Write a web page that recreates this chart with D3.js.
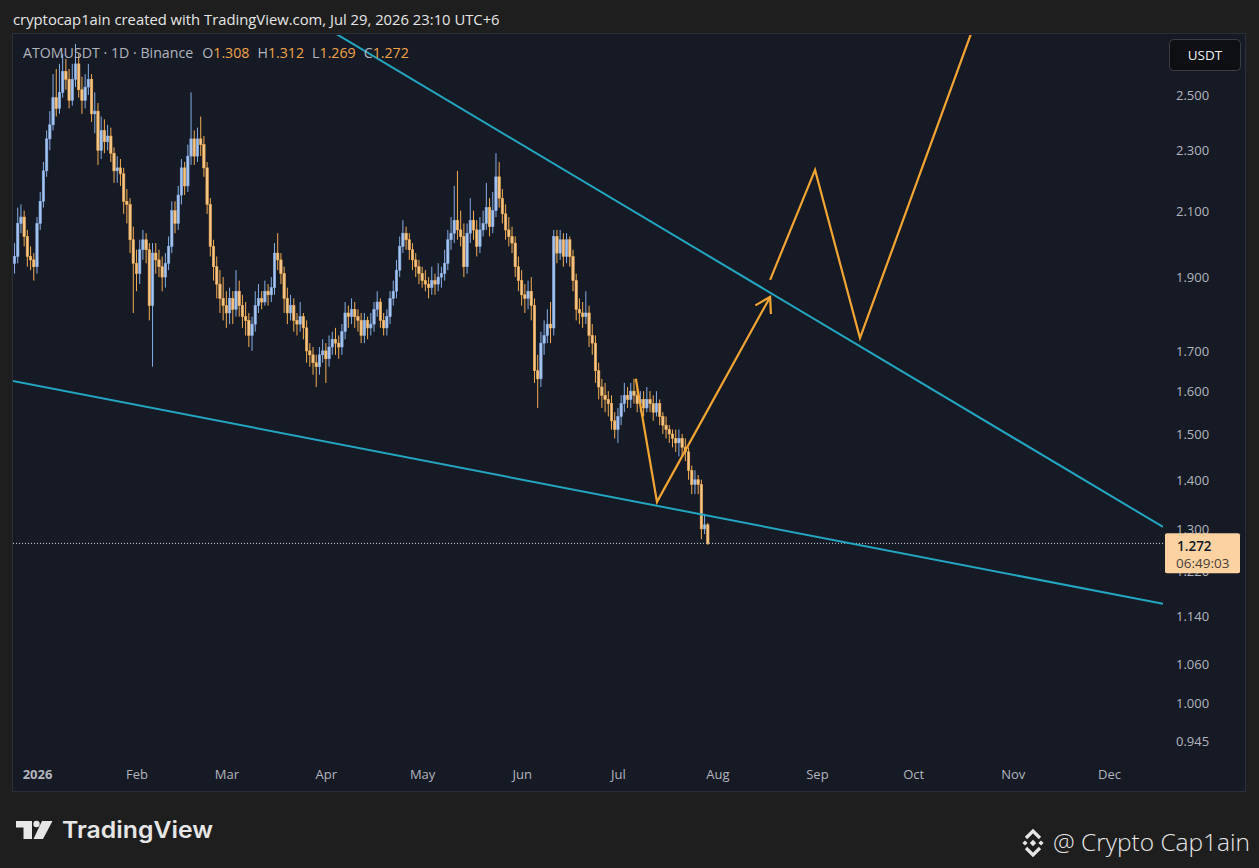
<!DOCTYPE html>
<html><head><meta charset="utf-8">
<script src="https://cdn.jsdelivr.net/npm/d3@7"></script>
<style>
html,body{margin:0;padding:0;background:#1e1e1e;}
svg{display:block;}
</style></head><body>
<svg id="c" width="1259" height="868"></svg>
<script>
// ---------------- data ----------------
const headerText = "cryptocap1ain created with TradingView.com, Jul 29, 2026 23:10 UTC+6";
const symbolTitle = "ATOMUSDT · 1D · Binance";
const ohlcKeys = ["O","H","L","C"];
const ohlcValues = ["1.308","1.312","1.269","1.272"];
const startDate = "2025-12-25";
const firstOpen = 1.94;
const closes = [
1.96,2.06,2.08,2.02,1.96,1.95,1.93,
2.06,2.13,2.23,2.34,2.39,2.49,2.45,2.51,2.59,2.56,
2.48,2.56,2.62,2.52,2.48,2.53,2.56,2.43,2.44,2.30,
2.37,2.33,2.35,2.29,2.23,2.24,2.22,2.13,2.12,2.01,
1.94,1.91,1.98,2.01,1.98,1.82,1.97,1.95,1.93,1.90,
1.94,1.99,2.10,2.06,2.15,2.24,2.18,2.28,2.34,2.28,
2.34,2.32,2.24,2.12,1.99,1.93,1.88,1.84,1.82,1.80,
1.84,1.81,1.86,1.82,1.79,1.78,1.74,1.77,1.82,1.84,
1.83,1.86,1.85,1.87,1.97,1.95,1.91,1.84,1.80,1.82,
1.78,1.77,1.79,1.76,1.70,1.69,1.67,1.66,1.69,1.70,
1.68,1.71,1.73,1.72,1.71,1.75,1.80,1.79,1.81,1.79,
1.78,1.74,1.78,1.76,1.77,1.81,1.83,1.78,1.76,1.79,
1.84,1.86,1.92,1.99,2.03,2.01,1.98,1.95,1.93,1.91,
1.89,1.88,1.87,1.89,1.88,1.90,1.91,1.94,2.01,2.03,
2.07,2.04,2.02,1.93,2.03,2.07,2.04,1.99,2.04,2.06,
2.11,2.05,2.10,2.21,2.14,2.09,2.04,2.02,2.00,1.93,
1.89,1.85,1.84,1.86,1.82,1.65,1.63,1.72,1.74,1.77,
1.76,2.02,1.97,2.01,1.96,2.01,1.96,1.89,1.81,1.80,
1.79,1.80,1.74,1.72,1.65,1.61,1.59,1.58,1.57,1.53,
1.51,1.54,1.57,1.59,1.58,1.60,1.59,1.57,1.58,1.56,
1.58,1.57,1.55,1.57,1.54,1.52,1.51,1.50,1.49,1.48,
1.49,1.47,1.46,1.42,1.39,1.40,1.39,1.30,1.308,1.272
];
const highs = [
2.00,2.11,2.12,2.10,2.04,1.99,1.97,
2.08,2.16,2.26,2.37,2.44,2.58,2.60,2.62,2.66,2.64,
2.60,2.62,2.70,2.66,2.57,2.58,2.62,2.58,2.51,2.47,
2.42,2.41,2.39,2.38,2.31,2.28,2.27,2.24,2.17,2.14,
2.05,1.98,2.01,2.04,2.03,2.00,2.00,2.00,1.98,1.96,
1.97,2.02,2.13,2.13,2.18,2.27,2.26,2.32,2.51,2.37,
2.38,2.42,2.35,2.26,2.14,2.01,1.96,1.92,1.90,1.86,
1.87,1.86,1.92,1.89,1.85,1.83,1.80,1.79,1.86,1.88,
1.86,1.89,1.88,1.90,2.00,2.03,1.97,1.93,1.87,1.85,
1.84,1.80,1.83,1.80,1.78,1.72,1.71,1.69,1.71,1.73,
1.72,1.74,1.75,1.76,1.74,1.77,1.83,1.82,1.84,1.83,
1.81,1.80,1.80,1.79,1.80,1.83,1.86,1.84,1.80,1.81,
1.86,1.89,1.95,2.02,2.07,2.05,2.03,2.00,1.97,1.95,
1.93,1.92,1.90,1.93,1.91,1.94,1.93,1.98,2.04,2.08,
2.18,2.23,2.10,2.06,2.06,2.14,2.10,2.07,2.08,2.10,
2.19,2.14,2.16,2.29,2.26,2.17,2.12,2.08,2.05,2.02,
1.96,1.92,1.88,1.89,1.90,1.84,1.69,1.75,1.78,1.81,
1.83,2.04,2.04,2.04,2.03,2.03,2.02,1.98,1.91,1.84,
1.83,1.86,1.82,1.77,1.74,1.67,1.63,1.62,1.60,1.59,
1.55,1.56,1.59,1.62,1.61,1.62,1.63,1.61,1.60,1.60,
1.61,1.60,1.59,1.60,1.58,1.55,1.54,1.52,1.51,1.51,
1.51,1.50,1.49,1.47,1.43,1.42,1.41,1.40,1.33,1.312
];
const lows = [
1.91,1.94,2.03,1.99,1.93,1.92,1.89,
1.91,2.04,2.11,2.21,2.30,2.37,2.42,2.43,2.49,2.52,
2.45,2.46,2.53,2.49,2.43,2.45,2.50,2.40,2.36,2.25,
2.27,2.29,2.30,2.26,2.19,2.19,2.18,2.09,2.06,1.97,
1.80,1.86,1.88,1.95,1.94,1.78,1.66,1.91,1.90,1.86,
1.87,1.92,1.97,2.03,2.04,2.12,2.15,2.16,2.25,2.25,
2.26,2.28,2.21,2.09,1.96,1.89,1.84,1.80,1.78,1.76,
1.77,1.77,1.79,1.79,1.76,1.74,1.71,1.70,1.75,1.80,
1.81,1.82,1.82,1.83,1.85,1.92,1.88,1.80,1.77,1.78,
1.75,1.74,1.75,1.73,1.67,1.66,1.64,1.61,1.64,1.67,
1.62,1.66,1.69,1.69,1.68,1.69,1.73,1.76,1.77,1.76,
1.75,1.72,1.72,1.73,1.74,1.75,1.79,1.76,1.74,1.74,
1.77,1.82,1.84,1.90,1.97,1.98,1.95,1.92,1.90,1.88,
1.87,1.86,1.84,1.85,1.85,1.86,1.87,1.89,1.92,1.98,
2.00,2.01,1.99,1.90,1.91,2.00,2.01,1.96,1.97,2.02,
2.04,2.02,2.03,2.08,2.11,2.06,2.01,1.99,1.97,1.90,
1.86,1.82,1.80,1.81,1.78,1.62,1.56,1.61,1.69,1.72,
1.72,1.74,1.94,1.95,1.93,1.94,1.93,1.86,1.78,1.77,
1.76,1.77,1.71,1.69,1.62,1.58,1.56,1.55,1.54,1.51,
1.49,1.48,1.52,1.55,1.56,1.56,1.57,1.55,1.55,1.54,
1.55,1.55,1.53,1.54,1.52,1.50,1.49,1.48,1.47,1.46,
1.45,1.45,1.44,1.40,1.37,1.37,1.37,1.28,1.29,1.269
];
const priceTicks = [2.5,2.3,2.1,1.9,1.7,1.6,1.5,1.4,1.3,1.22,1.14,1.06,1.0,0.945];
const monthDates = ["2026-01-01","2026-02-01","2026-03-01","2026-04-01","2026-05-01","2026-06-01",
                    "2026-07-01","2026-08-01","2026-09-01","2026-10-01","2026-11-01","2026-12-01"];
const monthLabels = ["2026","Feb","Mar","Apr","May","Jun","Jul","Aug","Sep","Oct","Nov","Dec"];
const upperTrend = [["2026-05-31",2.327],["2026-12-17",1.307]];
const lowerTrend = [["2025-12-25",1.624],["2026-12-17",1.162]];
const projectionA = [["2026-07-06T14:00",1.630],["2026-07-13T04:00",1.354],["2026-08-17T10:00",1.844]];
const projectionB = [["2026-08-17T10:00",1.892],["2026-08-31T10:00",2.233],["2026-09-14T10:00",1.733],["2026-10-20T05:00",2.786]];
const lastPrice = 1.272;
const lastPriceLabel = "1.272";
const countdownLabel = "06:49:03";
const currencyLabel = "USDT";

// ---------------- layout ----------------
const W = 1259, H = 868;
const plot = {l:13, r:1163, t:34, b:760};
const svg = d3.select("#c");
const font = "'Open Sans', 'Noto Sans', sans-serif";
const axisColor = "#b2b5be";
const upColor = "#85ade6", downColor = "#f2ac52";
const upFill = "#a6c4ee", downFill = "#f4c68a";

const x = d3.scaleUtc().domain([new Date("2026-01-01T00:00Z"), new Date("2026-12-01T00:00Z")]).range([37,1109]);
const y = d3.scaleLog().domain([1.0, 2.5]).range([703, 95]);
const parse = s => new Date(s.length > 10 ? s + "Z" : s + "T00:00Z");

svg.append("rect").attr("width",W).attr("height",H).attr("fill","#1e1e1e");
// header
svg.append("text").attr("x",13).attr("y",25).attr("fill","#e6e6e6")
  .attr("font-family",font).attr("font-size",14.8).text(headerText);
// chart panel
svg.append("rect").attr("x",12.5).attr("y",33.5).attr("width",1233).attr("height",758)
  .attr("fill","#161a25").attr("stroke","#2b2f3a").attr("stroke-width",1);

const defs = svg.append("defs");
defs.append("clipPath").attr("id","pc").append("rect")
  .attr("x",plot.l).attr("y",plot.t+1).attr("width",plot.r-plot.l).attr("height",plot.b-plot.t);

const g = svg.append("g").attr("clip-path","url(#pc)");

// candles
const start = parse(startDate);
const candles = closes.map((c,i) => ({
  date: d3.utcDay.offset(start, i),
  open: i === 0 ? firstOpen : closes[i-1],
  close: c, high: highs[i], low: lows[i]
}));
const bw = 2.4;
const cg = g.append("g");
cg.selectAll("line.w").data(candles).join("line").attr("class","w")
  .attr("x1",d=>x(d.date)).attr("x2",d=>x(d.date))
  .attr("y1",d=>y(d.high)).attr("y2",d=>y(d.low))
  .attr("stroke",d=>d.close>=d.open?upColor:downColor).attr("stroke-width",1);
cg.selectAll("rect.b").data(candles).join("rect").attr("class","b")
  .attr("x",d=>x(d.date)-bw/2).attr("width",bw)
  .attr("y",d=>y(Math.max(d.open,d.close)))
  .attr("height",d=>Math.max(1, Math.abs(y(d.open)-y(d.close))))
  .attr("fill",d=>d.close>=d.open?upFill:downFill)
  .attr("stroke",d=>d.close>=d.open?upColor:downColor).attr("stroke-width",0.6);

// last price dotted line
g.append("line").attr("x1",plot.l).attr("x2",plot.r)
  .attr("y1",y(lastPrice)).attr("y2",y(lastPrice))
  .attr("stroke","#d8dbe2").attr("stroke-width",1).attr("stroke-dasharray","1,2");

// trend lines (extended across the plot)
function extendLine(pts){
  const p = pts.map(d=>[x(parse(d[0])), y(d[1])]);
  const s = (p[1][1]-p[0][1])/(p[1][0]-p[0][0]);
  return [[plot.l-50, p[0][1]+s*(plot.l-50-p[0][0])],[plot.r, p[0][1]+s*(plot.r-p[0][0])]];
}
[upperTrend, lowerTrend].forEach(t=>{
  const e = extendLine(t);
  g.append("line").attr("x1",e[0][0]).attr("y1",e[0][1]).attr("x2",e[1][0]).attr("y2",e[1][1])
   .attr("stroke","#23a6c2").attr("stroke-width",2);
});

// projections
const lineGen = d3.line().x(d=>x(parse(d[0]))).y(d=>y(d[1]));
const projColor = "#f3a533";
g.append("path").attr("d",lineGen(projectionA)).attr("fill","none")
  .attr("stroke",projColor).attr("stroke-width",2.2).attr("stroke-linejoin","miter");
g.append("path").attr("d",lineGen(projectionB)).attr("fill","none")
  .attr("stroke",projColor).attr("stroke-width",2.2).attr("stroke-linejoin","miter");
// arrowhead at end of projection A
{
  const n = projectionA.length;
  const tip = [x(parse(projectionA[n-1][0])), y(projectionA[n-1][1])];
  const prev = [x(parse(projectionA[n-2][0])), y(projectionA[n-2][1])];
  const ang = Math.atan2(prev[1]-tip[1], prev[0]-tip[0]);
  const L = 17, spread = 0.55;
  const a1 = [tip[0]+L*Math.cos(ang+spread), tip[1]+L*Math.sin(ang+spread)];
  const a2 = [tip[0]+L*Math.cos(ang-spread), tip[1]+L*Math.sin(ang-spread)];
  g.append("path").attr("d",`M${a1[0]},${a1[1]}L${tip[0]},${tip[1]}L${a2[0]},${a2[1]}`)
   .attr("fill","none").attr("stroke",projColor).attr("stroke-width",2.2).attr("stroke-linejoin","miter");
}

// legend
const leg = svg.append("text").attr("x",23).attr("y",58).attr("font-family",font).attr("font-size",14.2);
leg.append("tspan").attr("fill","#b2b5be").text(symbolTitle);
ohlcKeys.forEach((k,i)=>{
  leg.append("tspan").attr("fill","#b2b5be").attr("dx", i===0?9:8).text(k);
  leg.append("tspan").attr("fill","#f0a345").text(ohlcValues[i]);
});

// price axis
const yAxis = d3.axisRight(y).tickValues(priceTicks).tickFormat(d3.format(".3f")).tickSize(0).tickPadding(0);
const ya = svg.append("g").attr("transform","translate(1176,0)").call(yAxis);
ya.select(".domain").remove();
ya.selectAll("text").attr("fill",axisColor).attr("font-family",font).attr("font-size",13).attr("dy","0.35em");

// time axis
const xAxis = d3.axisBottom(x).tickValues(monthDates.map(parse)).tickFormat((d,i)=>monthLabels[i]).tickSize(0).tickPadding(0);
const xa = svg.append("g").attr("transform","translate(0,770)").call(xAxis);
xa.select(".domain").remove();
xa.selectAll("text").attr("fill",axisColor).attr("font-family",font).attr("font-size",13)
  .attr("font-weight",(d,i)=>i===0?700:400).attr("dy","0.71em");

// currency box
svg.append("rect").attr("x",1169.5).attr("y",39.5).attr("width",71).attr("height",31).attr("rx",4)
  .attr("fill","#0e0f12").attr("stroke","#3a3d45");
svg.append("text").attr("x",1205).attr("y",60).attr("text-anchor","middle").attr("fill","#f0f0f0")
  .attr("font-family",font).attr("font-size",13.5).text(currencyLabel);

// last price label
const ly = y(lastPrice);
svg.append("rect").attr("x",1165).attr("y",ly-10).attr("width",75).attr("height",40).attr("rx",2)
  .attr("fill","#fcd2a3");
svg.append("text").attr("x",1177).attr("y",ly+8).attr("fill","#131722").attr("font-family",font)
  .attr("font-size",13.5).attr("font-weight",600).text(lastPriceLabel);
svg.append("text").attr("x",1176).attr("y",ly+24.5).attr("fill","#4a4036").attr("font-family",font)
  .attr("font-size",13.5).text(countdownLabel);

// TradingView logo (bottom-left)
const logo = svg.append("g").attr("fill","#e6e6e6");
logo.append("path").attr("d","M16,821H32V839H23.5V827.5H16Z");
logo.append("circle").attr("cx",36.5).attr("cy",824).attr("r",3.2);
logo.append("path").attr("d","M42,821H52.5L43,839H33.5Z");
svg.append("text").attr("x",62).attr("y",838).attr("fill","#e6e6e6")
  .attr("font-family","Inter, 'Open Sans', sans-serif").attr("font-size",23).attr("font-weight",600)
  .attr("textLength",151).attr("lengthAdjust","spacingAndGlyphs").text("TradingView");

// Binance-style mark + signature (bottom-right)
const bx = 1033, by = 843;
const bn = svg.append("g").attr("fill","#e6e6e6");
const dia = (cx,cy,r)=>`M${cx},${cy-r}L${cx+r},${cy}L${cx},${cy+r}L${cx-r},${cy}Z`;
bn.append("path").attr("d",dia(bx,by,3.2));
bn.append("path").attr("d",dia(bx-8,by,2.6));
bn.append("path").attr("d",dia(bx+8,by,2.6));
bn.append("path").attr("d",`M${bx-7},${by-5}L${bx},${by-12}L${bx+7},${by-5}`).attr("fill","none")
  .attr("stroke","#e6e6e6").attr("stroke-width",3.2);
bn.append("path").attr("d",`M${bx-7},${by+5}L${bx},${by+12}L${bx+7},${by+5}`).attr("fill","none")
  .attr("stroke","#e6e6e6").attr("stroke-width",3.2);
svg.append("text").attr("x",1053).attr("y",851).attr("fill","#e6e6e6")
  .attr("font-family","'Open Sans', sans-serif").attr("font-size",24).attr("font-weight",300)
  .attr("textLength",197).attr("lengthAdjust","spacingAndGlyphs").text("@ Crypto Cap1ain");
</script>
</body></html>
